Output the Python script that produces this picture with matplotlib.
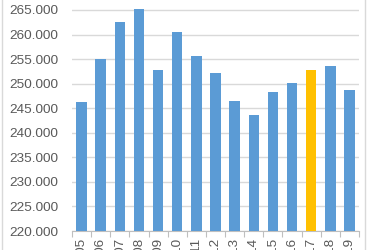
import matplotlib

matplotlib.use("Agg")
import matplotlib.pyplot as plt
from matplotlib.patches import Rectangle

years = [str(y) for y in range(2005, 2020)]
values = [246.2, 255.1, 262.5, 265.2, 252.8, 260.6, 255.7, 252.2, 246.4, 243.6,
          248.4, 250.1, 252.8, 253.6, 248.8]
highlight = "2017"

BLUE = "#5b9bd5"
GOLD = "#ffc000"
TEXT = "#595959"

plt.rcParams["font.family"] = ["Liberation Sans", "DejaVu Sans"]

fig = plt.figure(figsize=(3.78, 2.5), dpi=100)
# axes spans 220 -> 265.3 (bar for 2008 pokes just above the top gridline)
ax = fig.add_axes([72 / 378, 19 / 250, 287 / 378, 222.5 / 250])

colors = [GOLD if y == highlight else BLUE for y in years]
ax.bar(range(len(years)), values, width=0.55, color=colors, zorder=3)

ax.set_ylim(220, 265.3)
ax.set_xlim(-0.5, len(years) - 0.5)
ax.set_yticks([220 + 5 * i for i in range(10)])
ax.set_yticklabels([f"{220 + 5 * i:.3f}" for i in range(10)], fontsize=9.7, color=TEXT)
ax.set_xticks([i - 0.5 for i in range(len(years) + 1)], minor=False)
ax.set_xticklabels([])
ax.set_xticks(range(len(years)), minor=True)
ax.set_xticklabels(years, minor=True, rotation=90, fontsize=9.7, color=TEXT)
ax.tick_params(axis="x", which="major", length=4, color="#bfbfbf")
ax.tick_params(axis="x", which="minor", length=0, pad=5)
ax.tick_params(axis="y", length=0, pad=10)
ax.grid(axis="y", color="#d9d9d9", linewidth=1, zorder=0)

for side in ("top", "right", "left"):
    ax.spines[side].set_visible(False)
ax.spines["bottom"].set_color("#bfbfbf")

fig.patches.append(Rectangle((1.5 / 378, -0.1), 363.5 / 378, 1.2, transform=fig.transFigure,
                             fill=False, edgecolor="#d9d9d9", linewidth=1))

fig.savefig("out.png", dpi=100)
